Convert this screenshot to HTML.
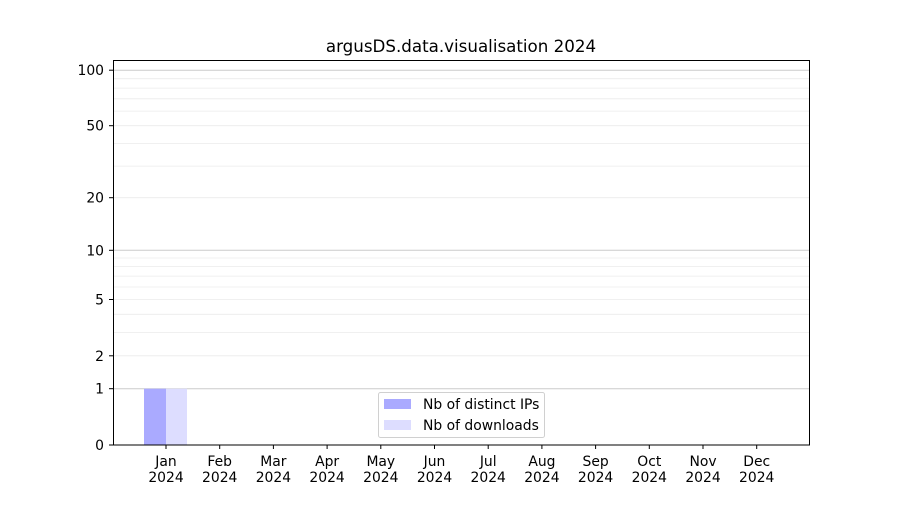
<!DOCTYPE html>
<html><head><style>body{margin:0;background:#fff}</style></head><body>
<svg width="900" height="500" xmlns="http://www.w3.org/2000/svg" font-family="DejaVu Sans, Liberation Sans, sans-serif" font-size="13.9">
<rect width="900" height="500" fill="#fff"/>
<g stroke="#ebebeb" stroke-width="0.8">
<line x1="113" x2="810" y1="355.8" y2="355.8"/><line x1="113" x2="810" y1="332.4" y2="332.4"/><line x1="113" x2="810" y1="314.3" y2="314.3"/><line x1="113" x2="810" y1="299.5" y2="299.5"/><line x1="113" x2="810" y1="287" y2="287"/><line x1="113" x2="810" y1="276.1" y2="276.1"/><line x1="113" x2="810" y1="266.6" y2="266.6"/><line x1="113" x2="810" y1="258" y2="258"/>
<line x1="113" x2="810" y1="197.7" y2="197.7"/><line x1="113" x2="810" y1="166.1" y2="166.1"/><line x1="113" x2="810" y1="143.4" y2="143.4"/><line x1="113" x2="810" y1="125.7" y2="125.7"/><line x1="113" x2="810" y1="111.1" y2="111.1"/><line x1="113" x2="810" y1="98.8" y2="98.8"/><line x1="113" x2="810" y1="88.1" y2="88.1"/><line x1="113" x2="810" y1="78.7" y2="78.7"/>
</g>
<g stroke="#cccccc" stroke-width="1">
<line x1="113" x2="810" y1="388.7" y2="388.7"/><line x1="113" x2="810" y1="250.3" y2="250.3"/><line x1="113" x2="810" y1="70.2" y2="70.2"/>
</g>
<rect x="144" y="388.7" width="22" height="56.3" fill="#aaaaff"/>
<rect x="166" y="388.7" width="21" height="56.3" fill="#ddddff"/>
<rect x="113.5" y="60.5" width="696" height="384.5" fill="none" stroke="#000" stroke-width="1"/>
<g stroke="#000">
<line x1="109" x2="113" y1="445" y2="445"/><line x1="109" x2="113" y1="388.7" y2="388.7"/><line x1="109" x2="113" y1="355.8" y2="355.8"/><line x1="109" x2="113" y1="299.5" y2="299.5"/><line x1="109" x2="113" y1="250.3" y2="250.3"/><line x1="109" x2="113" y1="197.7" y2="197.7"/><line x1="109" x2="113" y1="125.7" y2="125.7"/><line x1="109" x2="113" y1="70.2" y2="70.2"/>
</g>
<g text-anchor="end" fill="#000">
<text x="104" y="450">0</text><text x="104" y="393.7">1</text><text x="104" y="360.8">2</text><text x="104" y="304.5">5</text><text x="104" y="255.3">10</text><text x="104" y="202.7">20</text><text x="104" y="130.7">50</text><text x="104" y="75.2">100</text>
</g>
<g text-anchor="middle" fill="#000" stroke="none">
<text x="166" y="466">Jan</text><text x="166" y="482">2024</text>
<text x="219.7" y="466">Feb</text><text x="219.7" y="482">2024</text>
<text x="273.4" y="466">Mar</text><text x="273.4" y="482">2024</text>
<text x="327.1" y="466">Apr</text><text x="327.1" y="482">2024</text>
<text x="380.8" y="466">May</text><text x="380.8" y="482">2024</text>
<text x="434.5" y="466">Jun</text><text x="434.5" y="482">2024</text>
<text x="488.2" y="466">Jul</text><text x="488.2" y="482">2024</text>
<text x="541.9" y="466">Aug</text><text x="541.9" y="482">2024</text>
<text x="595.6" y="466">Sep</text><text x="595.6" y="482">2024</text>
<text x="649.3" y="466">Oct</text><text x="649.3" y="482">2024</text>
<text x="703" y="466">Nov</text><text x="703" y="482">2024</text>
<text x="756.7" y="466">Dec</text><text x="756.7" y="482">2024</text>
<text x="461" y="52" font-size="16.7">argusDS.data.visualisation 2024</text>
</g>
<g stroke="#000">
<line x1="166" x2="166" y1="445" y2="449"/><line x1="219.7" x2="219.7" y1="445" y2="449"/><line x1="273.4" x2="273.4" y1="445" y2="449"/><line x1="327.1" x2="327.1" y1="445" y2="449"/><line x1="380.8" x2="380.8" y1="445" y2="449"/><line x1="434.5" x2="434.5" y1="445" y2="449"/><line x1="488.2" x2="488.2" y1="445" y2="449"/><line x1="541.9" x2="541.9" y1="445" y2="449"/><line x1="595.6" x2="595.6" y1="445" y2="449"/><line x1="649.3" x2="649.3" y1="445" y2="449"/><line x1="703" x2="703" y1="445" y2="449"/><line x1="756.7" x2="756.7" y1="445" y2="449"/>
</g>
<rect x="378.5" y="392.5" width="166" height="45" rx="2" fill="#fff" fill-opacity="0.8" stroke="#d0d0d0"/>
<rect x="384" y="399" width="27" height="10" fill="#aaaaff"/>
<rect x="384" y="420" width="27" height="10" fill="#ddddff"/>
<text x="423" y="409" fill="#000">Nb of distinct IPs</text>
<text x="423" y="430" fill="#000">Nb of downloads</text>
</svg>
</body></html>
